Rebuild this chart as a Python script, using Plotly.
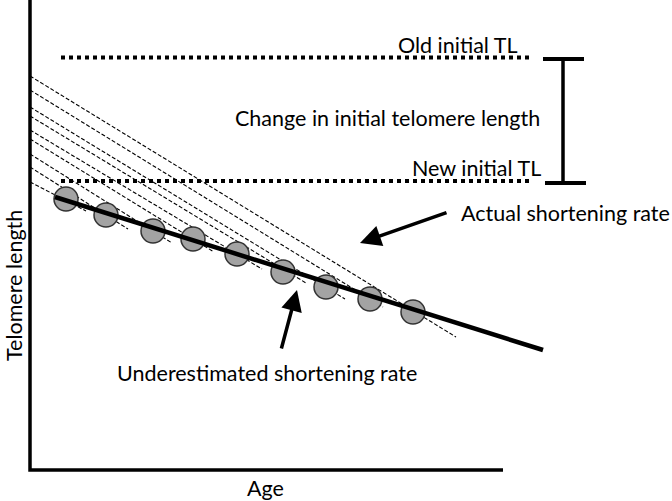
import plotly.graph_objects as go

# ---- data (age, telomere length in arbitrary diagram units) ----
sample_age = [36, 76, 123, 163, 207, 253, 296, 340, 383]
sample_tl = [271, 255, 239, 231, 216, 198, 183, 171, 158]

# dashed "actual shortening" lines: start at age 0, end past each sample
dash_start_tl = [288, 303, 316, 331, 340, 354, 363, 380, 394]
dash_end_age = [56, 98, 142, 184, 232, 276, 315, 353, 426]
dash_end_tl = [259, 241, 227, 218, 201, 187, 171, 163, 133]

# underestimated (cross-sectional) regression line
fit_age = [25, 513]
fit_tl = [273, 120]

# initial telomere length levels
old_initial_tl = 412.5
new_initial_tl = 289
level_age = [31, 500]

# axis extents
x_axis_end = 473
y_axis_end = 470

FONT = "Lato"

fig = go.Figure()

# axes
fig.add_trace(go.Scatter(x=[0, 0, x_axis_end], y=[y_axis_end, 0, 0], mode="lines",
                         line=dict(color="black", width=3.5), hoverinfo="skip"))

# initial TL levels (dotted)
for lvl in [old_initial_tl, new_initial_tl]:
    fig.add_trace(go.Scatter(x=level_age, y=[lvl, lvl], mode="lines",
                             line=dict(color="black", width=4, dash="dot"), hoverinfo="skip"))

# bracket
bx = 533
fig.add_trace(go.Scatter(x=[bx, bx], y=[old_initial_tl - 1.5, new_initial_tl - 2], mode="lines",
                         line=dict(color="black", width=3.5), hoverinfo="skip"))
fig.add_trace(go.Scatter(x=[513, 554], y=[old_initial_tl - 1.5] * 2, mode="lines",
                         line=dict(color="black", width=4), hoverinfo="skip"))
fig.add_trace(go.Scatter(x=[515, 556], y=[new_initial_tl - 2] * 2, mode="lines",
                         line=dict(color="black", width=4), hoverinfo="skip"))

# dashed longitudinal lines
for s, ea, et in zip(dash_start_tl, dash_end_age, dash_end_tl):
    fig.add_trace(go.Scatter(x=[0, ea], y=[s, et], mode="lines",
                             line=dict(color="black", width=1.1, dash="4px,2px"), hoverinfo="skip"))

# sample points
fig.add_trace(go.Scatter(x=sample_age, y=sample_tl, mode="markers",
                         marker=dict(size=24, color="#a3a3a3", line=dict(color="#333333", width=1.5)),
                         hoverinfo="skip"))

# fitted line on top
fig.add_trace(go.Scatter(x=fit_age, y=fit_tl, mode="lines",
                         line=dict(color="black", width=4.5), hoverinfo="skip"))

tf = dict(family=FONT, size=21.5, color="black")
ann = [
    dict(x=490, y=425, text="Old initial TL", xanchor="right", yanchor="middle", showarrow=False, font=tf),
    dict(x=513, y=302, text="New initial TL", xanchor="right", yanchor="middle", showarrow=False, font=tf),
    dict(x=512, y=352, text="Change in initial telomere length", xanchor="right", yanchor="middle", showarrow=False, font=tf),
    dict(x=429, y=257, text="Actual shortening rate", xanchor="left", yanchor="middle", showarrow=False, font=tf),
    dict(x=85, y=97, text="Underestimated shortening rate", xanchor="left", yanchor="middle", showarrow=False, font=tf),
    dict(x=235, y=-18, text="Age", xanchor="center", yanchor="middle", showarrow=False, font=tf),
    dict(x=-16, y=184, text="Telomere length", textangle=-90, xanchor="center", yanchor="middle", showarrow=False, font=tf),
    # arrows
    dict(x=330, y=227, ax=418, ay=258, axref="x", ayref="y", xref="x", yref="y", text="",
         showarrow=True, arrowhead=2, arrowsize=1.2, arrowwidth=3.5, arrowcolor="black"),
    dict(x=267, y=180, ax=251, ay=120, axref="x", ayref="y", xref="x", yref="y", text="",
         showarrow=True, arrowhead=2, arrowsize=1.2, arrowwidth=3.5, arrowcolor="black"),
]

fig.update_layout(
    width=672, height=501,
    margin=dict(l=0, r=0, t=0, b=0),
    paper_bgcolor="white", plot_bgcolor="white",
    showlegend=False,
    xaxis=dict(range=[-30, 642], visible=False, fixedrange=True),
    yaxis=dict(range=[-31, 470], visible=False, fixedrange=True),
    annotations=ann,
)

# remove the default page margin so the 672x501 figure fills the window exactly
fig.write_html("out.html", config={"displayModeBar": False},
               post_script="document.body.style.margin='0';document.body.style.overflow='hidden';")
